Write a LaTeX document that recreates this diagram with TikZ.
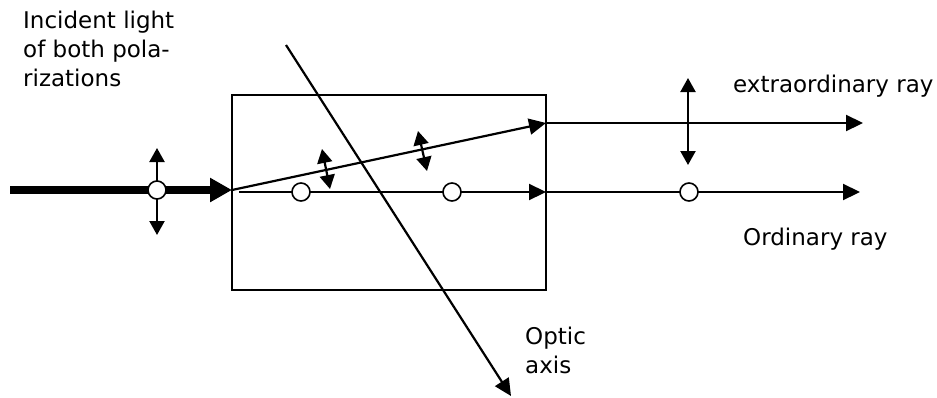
\documentclass[tikz,border=0pt]{standalone}
\usepackage{fontspec}
\setmainfont{DejaVu Sans}
\usetikzlibrary{arrows.meta}
\begin{document}
\begin{tikzpicture}[x=1pt,y=-1pt,
  ray/.style={line width=2.2pt,-{Triangle[length=17pt,width=16pt]}},
  pol/.style={line width=2.2pt,{Triangle[length=14pt,width=15pt]}-{Triangle[length=14pt,width=15pt]}},
  dot/.style={circle,draw,fill=white,line width=1.6pt,minimum size=18pt,inner sep=0pt},
  lbl/.style={inner sep=0pt,font=\fontsize{23}{29}\selectfont,align=left}]
\useasboundingbox (0,0) rectangle (937,397);
% crystal
\node[draw,line width=1.9pt,minimum width=314pt,minimum height=195pt,inner sep=0pt] (crystal) at (389,192.5) {};
% coordinates
\coordinate (src) at (10,190);
\coordinate (entry) at (232,190);
\coordinate (oin) at (239,192);
\coordinate (eout) at (546,123);
\coordinate (oout) at (546,192);
\coordinate (eend) at (863,123);
\coordinate (oend) at (860,192);
\coordinate (axA) at (286,45);
\coordinate (axB) at (511,396);
% incident beam
\draw[line width=8.3pt,-{Triangle[length=22pt,width=23pt]}] (src) -- (entry);
\coordinate (p0a) at (157,148);
\coordinate (p0b) at (157,235);
\draw[pol] (p0a) -- (p0b);
\node[dot] (c0) at (157,190) {};
% rays inside crystal
\draw[ray] (entry) -- (eout);
\draw[ray] (oin) -- (oout);
% rays outside
\draw[ray] (eout) -- (eend);
\draw[ray] (oout) -- (oend);
% polarization symbols
\coordinate (p1a) at (322,149);
\coordinate (p1b) at (330,189);
\draw[pol] (p1a) -- (p1b);
\coordinate (p2a) at (418,131);
\coordinate (p2b) at (427,171);
\draw[pol] (p2a) -- (p2b);
\coordinate (p3a) at (688,78);
\coordinate (p3b) at (688,165);
\draw[pol] (p3a) -- (p3b);
\node[dot] (c1) at (301,192) {};
\node[dot] (c2) at (452,192) {};
\node[dot] (c3) at (689,192) {};
% optic axis
\draw[line width=2.2pt,-{Triangle[length=17pt,width=16pt]}] (axA) -- (axB);
% labels
\node[lbl,anchor=north west] (inc) at (23,11) {Incident light\\of both pola-\\rizations};
\node[lbl,anchor=base west] (ext) at (733,92) {extraordinary ray};
\node[lbl,anchor=base west] (ord) at (743,245) {Ordinary ray};
\node[lbl,anchor=north west] (opt) at (525,327) {Optic\\axis};
\end{tikzpicture}
\end{document}
